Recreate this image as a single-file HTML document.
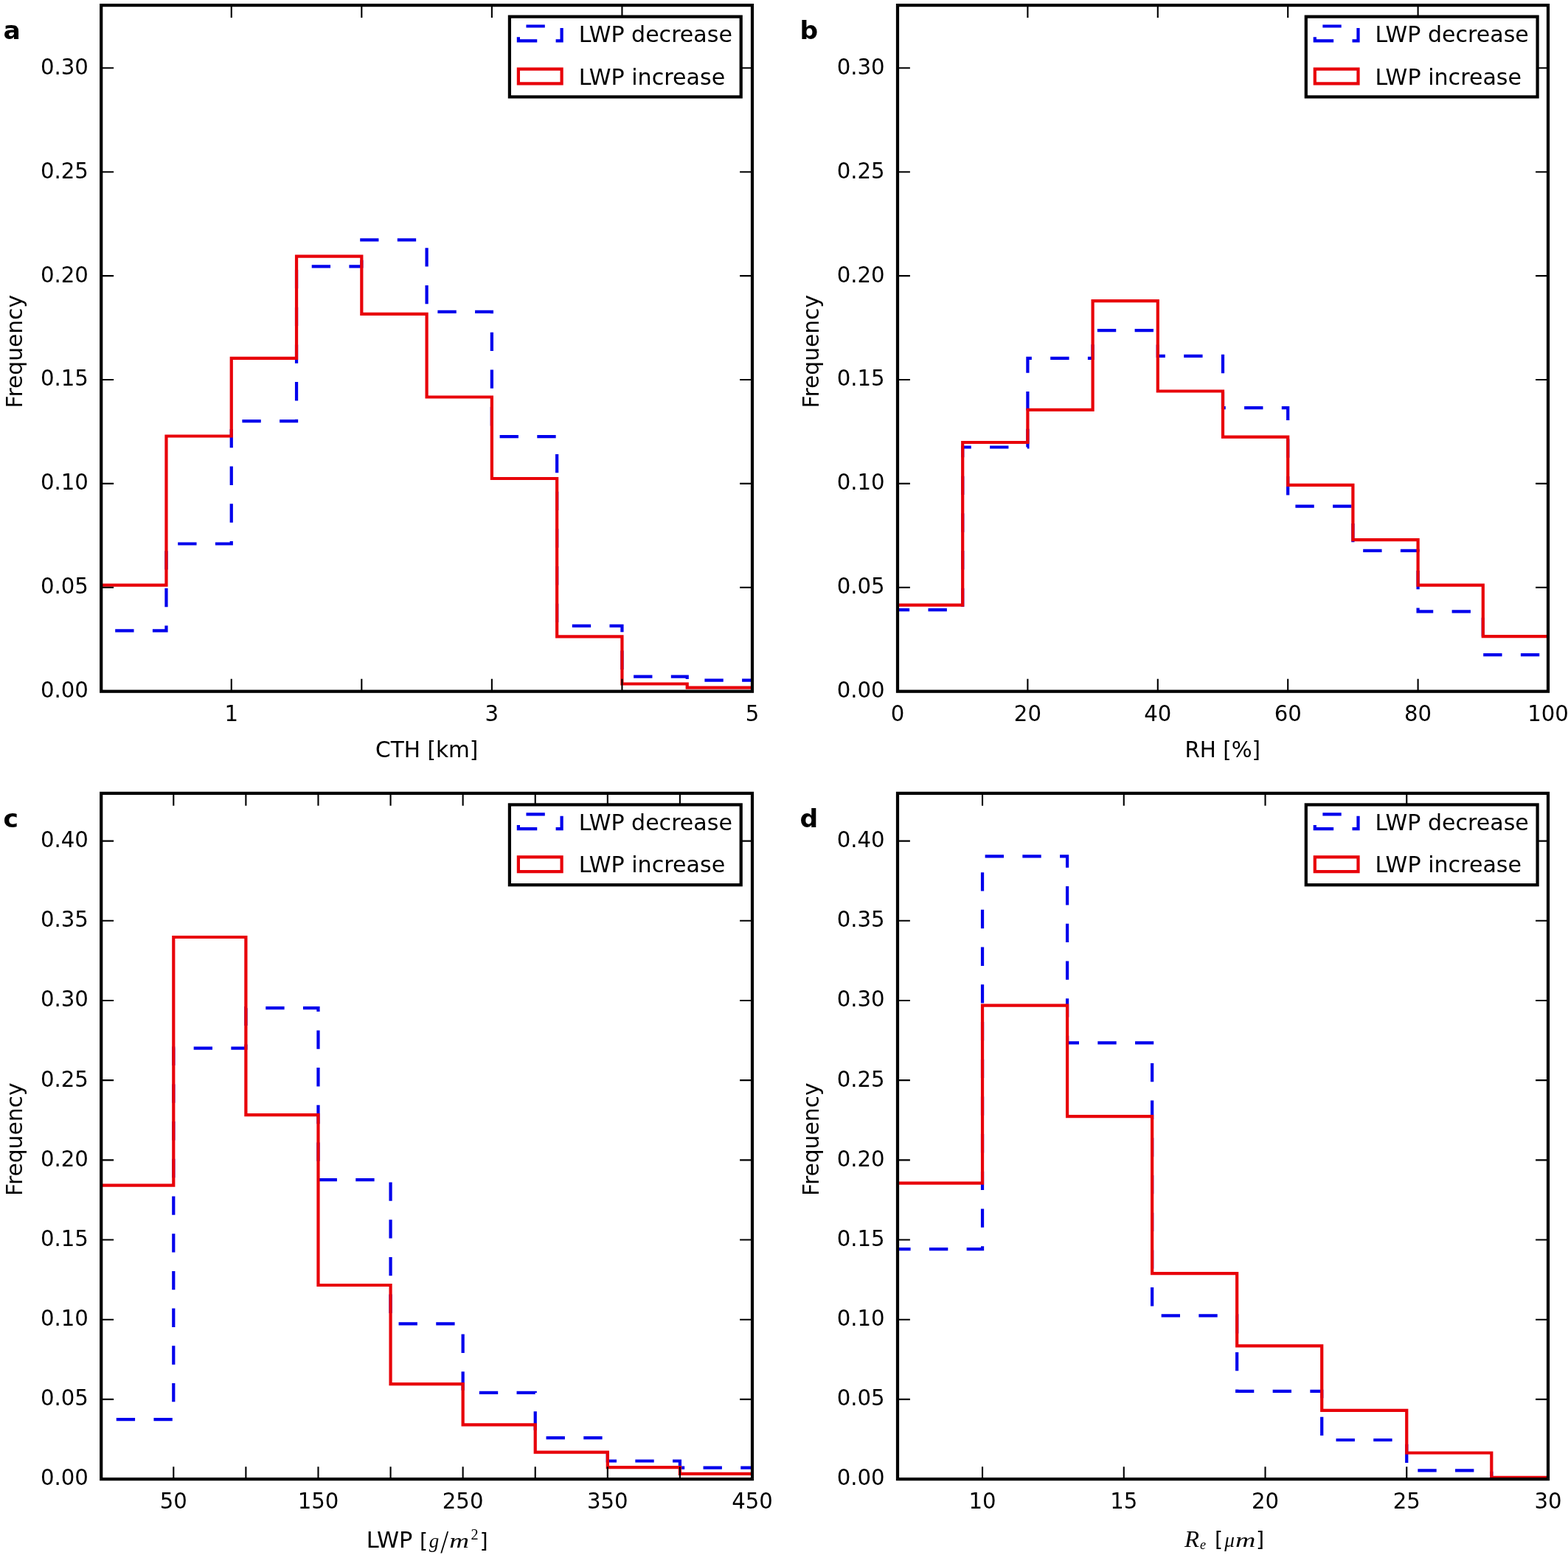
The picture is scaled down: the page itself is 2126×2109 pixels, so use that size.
<!DOCTYPE html>
<html><head><meta charset="utf-8"><title>Histograms</title>
<style>
html,body{margin:0;padding:0;background:#fff;overflow:hidden;}
svg{display:block;}
text{font-family:"DejaVu Sans","Liberation Sans",sans-serif;fill:#000;}
.b{font-weight:bold;}
.m{font-family:"Liberation Serif","DejaVu Serif",serif;}
</style></head><body>
<svg width="2126" height="2109" viewBox="0 0 2126 2109">
<rect x="0" y="0" width="2126" height="2109" fill="#fff"/>
<clipPath id="cpa"><rect x="138.2" y="8.1" width="880.8" height="928.6"/></clipPath>
<path d="M137.2 855.3H225.48V737.5H313.76V571.2H402.04V361.3H490.32V325.3H578.6V422.8H666.88V592.1H755.16V848.8H843.44V917.6H931.72V922.7H1020" fill="none" stroke="#0000ec" stroke-width="4.225" stroke-linejoin="miter" stroke-linecap="butt" stroke-dasharray="25.35 25.35" stroke-dashoffset="82.4" clip-path="url(#cpa)"/>
<path d="M137.2 793.6H225.48V591.5H313.76V485.9H402.04V347.6H490.32V425.9H578.6V538.5H666.88V649H755.16V863.3H843.44V927.5H931.72V932.7H1020" fill="none" stroke="#e8020a" stroke-width="4.225" stroke-linejoin="miter" stroke-linecap="butt" clip-path="url(#cpa)"/>
<path d="M313.76 937.7v-16.9M313.76 7.1v16.9M490.32 937.7v-16.9M490.32 7.1v16.9M666.88 937.7v-16.9M666.88 7.1v16.9M843.44 937.7v-16.9M843.44 7.1v16.9M137.2 937.7h16.9M1020 937.7h-16.9M137.2 796.8h16.9M1020 796.8h-16.9M137.2 655.9h16.9M1020 655.9h-16.9M137.2 515h16.9M1020 515h-16.9M137.2 374.1h16.9M1020 374.1h-16.9M137.2 233.2h16.9M1020 233.2h-16.9M137.2 92.3h16.9M1020 92.3h-16.9" stroke="#000" stroke-width="2.11" fill="none"/>
<rect x="137.2" y="7.1" width="882.8" height="930.6" fill="none" stroke="#000" stroke-width="4.225"/>
<text x="54.88" y="946.1" font-size="29.7" textLength="65.02" lengthAdjust="spacingAndGlyphs">0.00</text>
<text x="54.88" y="805.2" font-size="29.7" textLength="65.02" lengthAdjust="spacingAndGlyphs">0.05</text>
<text x="54.88" y="664.3" font-size="29.7" textLength="65.02" lengthAdjust="spacingAndGlyphs">0.10</text>
<text x="54.88" y="523.4" font-size="29.7" textLength="65.02" lengthAdjust="spacingAndGlyphs">0.15</text>
<text x="54.88" y="382.5" font-size="29.7" textLength="65.02" lengthAdjust="spacingAndGlyphs">0.20</text>
<text x="54.88" y="241.6" font-size="29.7" textLength="65.02" lengthAdjust="spacingAndGlyphs">0.25</text>
<text x="54.88" y="100.7" font-size="29.7" textLength="65.02" lengthAdjust="spacingAndGlyphs">0.30</text>
<text x="304.48" y="977.9" font-size="29.7" textLength="18.56" lengthAdjust="spacingAndGlyphs">1</text>
<text x="657.6" y="977.9" font-size="29.7" textLength="18.56" lengthAdjust="spacingAndGlyphs">3</text>
<text x="1010.72" y="977.9" font-size="29.7" textLength="18.56" lengthAdjust="spacingAndGlyphs">5</text>
<rect x="690.9" y="22.6" width="313.8" height="108.8" fill="#fff" stroke="#000" stroke-width="4.225"/>
<path d="M702.9 55.4H761.6V35.5H702.9Z" fill="none" stroke="#0000ec" stroke-width="4.225" stroke-dasharray="25.35 25.35"/>
<path d="M702.9 113.4H761.6V93.6H702.9Z" fill="none" stroke="#e8020a" stroke-width="4.225"/>
<text x="784.7" y="56.7" font-size="29.575" textLength="208.2" lengthAdjust="spacingAndGlyphs">LWP decrease</text>
<text x="784.7" y="114.5" font-size="29.575" textLength="198.5" lengthAdjust="spacingAndGlyphs">LWP increase</text>
<text transform="translate(29.9 476.7) rotate(-90)" x="-76.75" y="0" font-size="29.575" textLength="153.5" lengthAdjust="spacingAndGlyphs">Frequency</text>
<text class="b" x="4.6" y="52.7" font-size="34.5">a</text>
<text x="509.1" y="1027.2" font-size="29.575" textLength="139.3" lengthAdjust="spacingAndGlyphs">CTH [km]</text>
<clipPath id="cpb"><rect x="1218" y="8.1" width="880" height="928.6"/></clipPath>
<path d="M1217 827.1H1305.2V606.5H1393.4V485.8H1481.6V448.1H1569.8V482.9H1658V553.1H1746.2V686.6H1834.4V746.9H1922.6V829.3H2010.8V888.1H2099" fill="none" stroke="#0000ec" stroke-width="4.225" stroke-linejoin="miter" stroke-linecap="butt" stroke-dasharray="25.35 25.35" stroke-dashoffset="110.6" clip-path="url(#cpb)"/>
<path d="M1217 820.7H1305.2V600H1393.4V555.9H1481.6V408.05H1569.8V530.5H1658V592.7H1746.2V657.8H1834.4V732.2H1922.6V793.7H2010.8V863.1H2099" fill="none" stroke="#e8020a" stroke-width="4.225" stroke-linejoin="miter" stroke-linecap="butt" clip-path="url(#cpb)"/>
<path d="M1393.4 937.7v-16.9M1393.4 7.1v16.9M1569.8 937.7v-16.9M1569.8 7.1v16.9M1746.2 937.7v-16.9M1746.2 7.1v16.9M1922.6 937.7v-16.9M1922.6 7.1v16.9M1217 937.7h16.9M2099 937.7h-16.9M1217 796.8h16.9M2099 796.8h-16.9M1217 655.9h16.9M2099 655.9h-16.9M1217 515h16.9M2099 515h-16.9M1217 374.1h16.9M2099 374.1h-16.9M1217 233.2h16.9M2099 233.2h-16.9M1217 92.3h16.9M2099 92.3h-16.9" stroke="#000" stroke-width="2.11" fill="none"/>
<rect x="1217" y="7.1" width="882" height="930.6" fill="none" stroke="#000" stroke-width="4.225"/>
<text x="1134.68" y="946.1" font-size="29.7" textLength="65.02" lengthAdjust="spacingAndGlyphs">0.00</text>
<text x="1134.68" y="805.2" font-size="29.7" textLength="65.02" lengthAdjust="spacingAndGlyphs">0.05</text>
<text x="1134.68" y="664.3" font-size="29.7" textLength="65.02" lengthAdjust="spacingAndGlyphs">0.10</text>
<text x="1134.68" y="523.4" font-size="29.7" textLength="65.02" lengthAdjust="spacingAndGlyphs">0.15</text>
<text x="1134.68" y="382.5" font-size="29.7" textLength="65.02" lengthAdjust="spacingAndGlyphs">0.20</text>
<text x="1134.68" y="241.6" font-size="29.7" textLength="65.02" lengthAdjust="spacingAndGlyphs">0.25</text>
<text x="1134.68" y="100.7" font-size="29.7" textLength="65.02" lengthAdjust="spacingAndGlyphs">0.30</text>
<text x="1207.72" y="977.9" font-size="29.7" textLength="18.56" lengthAdjust="spacingAndGlyphs">0</text>
<text x="1374.84" y="977.9" font-size="29.7" textLength="37.12" lengthAdjust="spacingAndGlyphs">20</text>
<text x="1551.24" y="977.9" font-size="29.7" textLength="37.12" lengthAdjust="spacingAndGlyphs">40</text>
<text x="1727.64" y="977.9" font-size="29.7" textLength="37.12" lengthAdjust="spacingAndGlyphs">60</text>
<text x="1904.04" y="977.9" font-size="29.7" textLength="37.12" lengthAdjust="spacingAndGlyphs">80</text>
<text x="2071.16" y="977.9" font-size="29.7" textLength="55.67" lengthAdjust="spacingAndGlyphs">100</text>
<rect x="1770.8" y="22.6" width="313.8" height="108.8" fill="#fff" stroke="#000" stroke-width="4.225"/>
<path d="M1782.8 55.4H1841.5V35.5H1782.8Z" fill="none" stroke="#0000ec" stroke-width="4.225" stroke-dasharray="25.35 25.35"/>
<path d="M1782.8 113.4H1841.5V93.6H1782.8Z" fill="none" stroke="#e8020a" stroke-width="4.225"/>
<text x="1864.6" y="56.7" font-size="29.575" textLength="208.2" lengthAdjust="spacingAndGlyphs">LWP decrease</text>
<text x="1864.6" y="114.5" font-size="29.575" textLength="198.5" lengthAdjust="spacingAndGlyphs">LWP increase</text>
<text transform="translate(1109.7 476.7) rotate(-90)" x="-76.75" y="0" font-size="29.575" textLength="153.5" lengthAdjust="spacingAndGlyphs">Frequency</text>
<text class="b" x="1084.4" y="52.7" font-size="34.5">b</text>
<text x="1606.4" y="1027.2" font-size="29.575" textLength="102.6" lengthAdjust="spacingAndGlyphs">RH [%]</text>
<clipPath id="cpc"><rect x="138.2" y="1076.9" width="880.8" height="928.15"/></clipPath>
<path d="M137.2 1925.2H235.29V1421.7H333.38V1367.2H431.47V1600.1H529.56V1795.3H627.64V1888.8H725.73V1950.2H823.82V1981.5H921.91V1990.7H1020" fill="none" stroke="#0000ec" stroke-width="4.225" stroke-linejoin="miter" stroke-linecap="butt" stroke-dasharray="25.35 25.35" stroke-dashoffset="80.85" clip-path="url(#cpc)"/>
<path d="M137.2 1607.6H235.29V1271H333.38V1512.1H431.47V1743H529.56V1877.2H627.64V1932.3H725.73V1969.6H823.82V1990.2H921.91V1998.9H1020" fill="none" stroke="#e8020a" stroke-width="4.225" stroke-linejoin="miter" stroke-linecap="butt" clip-path="url(#cpc)"/>
<path d="M235.29 2006.05v-16.9M235.29 1075.9v16.9M333.38 2006.05v-16.9M333.38 1075.9v16.9M431.47 2006.05v-16.9M431.47 1075.9v16.9M529.56 2006.05v-16.9M529.56 1075.9v16.9M627.64 2006.05v-16.9M627.64 1075.9v16.9M725.73 2006.05v-16.9M725.73 1075.9v16.9M823.82 2006.05v-16.9M823.82 1075.9v16.9M921.91 2006.05v-16.9M921.91 1075.9v16.9M137.2 2006.05h16.9M1020 2006.05h-16.9M137.2 1897.87h16.9M1020 1897.87h-16.9M137.2 1789.69h16.9M1020 1789.69h-16.9M137.2 1681.51h16.9M1020 1681.51h-16.9M137.2 1573.33h16.9M1020 1573.33h-16.9M137.2 1465.15h16.9M1020 1465.15h-16.9M137.2 1356.97h16.9M1020 1356.97h-16.9M137.2 1248.79h16.9M1020 1248.79h-16.9M137.2 1140.61h16.9M1020 1140.61h-16.9" stroke="#000" stroke-width="2.11" fill="none"/>
<rect x="137.2" y="1075.9" width="882.8" height="930.15" fill="none" stroke="#000" stroke-width="4.225"/>
<text x="54.88" y="2014.45" font-size="29.7" textLength="65.02" lengthAdjust="spacingAndGlyphs">0.00</text>
<text x="54.88" y="1906.27" font-size="29.7" textLength="65.02" lengthAdjust="spacingAndGlyphs">0.05</text>
<text x="54.88" y="1798.09" font-size="29.7" textLength="65.02" lengthAdjust="spacingAndGlyphs">0.10</text>
<text x="54.88" y="1689.91" font-size="29.7" textLength="65.02" lengthAdjust="spacingAndGlyphs">0.15</text>
<text x="54.88" y="1581.73" font-size="29.7" textLength="65.02" lengthAdjust="spacingAndGlyphs">0.20</text>
<text x="54.88" y="1473.55" font-size="29.7" textLength="65.02" lengthAdjust="spacingAndGlyphs">0.25</text>
<text x="54.88" y="1365.37" font-size="29.7" textLength="65.02" lengthAdjust="spacingAndGlyphs">0.30</text>
<text x="54.88" y="1257.19" font-size="29.7" textLength="65.02" lengthAdjust="spacingAndGlyphs">0.35</text>
<text x="54.88" y="1149.01" font-size="29.7" textLength="65.02" lengthAdjust="spacingAndGlyphs">0.40</text>
<text x="216.73" y="2046.25" font-size="29.7" textLength="37.12" lengthAdjust="spacingAndGlyphs">50</text>
<text x="403.63" y="2046.25" font-size="29.7" textLength="55.67" lengthAdjust="spacingAndGlyphs">150</text>
<text x="599.81" y="2046.25" font-size="29.7" textLength="55.67" lengthAdjust="spacingAndGlyphs">250</text>
<text x="795.99" y="2046.25" font-size="29.7" textLength="55.67" lengthAdjust="spacingAndGlyphs">350</text>
<text x="992.16" y="2046.25" font-size="29.7" textLength="55.67" lengthAdjust="spacingAndGlyphs">450</text>
<rect x="690.9" y="1091.4" width="313.8" height="108.8" fill="#fff" stroke="#000" stroke-width="4.225"/>
<path d="M702.9 1124.2H761.6V1104.3H702.9Z" fill="none" stroke="#0000ec" stroke-width="4.225" stroke-dasharray="25.35 25.35"/>
<path d="M702.9 1182.2H761.6V1162.4H702.9Z" fill="none" stroke="#e8020a" stroke-width="4.225"/>
<text x="784.7" y="1125.5" font-size="29.575" textLength="208.2" lengthAdjust="spacingAndGlyphs">LWP decrease</text>
<text x="784.7" y="1183.3" font-size="29.575" textLength="198.5" lengthAdjust="spacingAndGlyphs">LWP increase</text>
<text transform="translate(29.9 1545.27) rotate(-90)" x="-76.75" y="0" font-size="29.575" textLength="153.5" lengthAdjust="spacingAndGlyphs">Frequency</text>
<text class="b" x="4.6" y="1121.5" font-size="34.5">c</text>
<clipPath id="cpd"><rect x="1218" y="1076.9" width="880" height="928.15"/></clipPath>
<path d="M1217 1694.1H1332.04V1161.4H1447.09V1414.3H1562.13V1784.3H1677.17V1886.8H1792.22V1953H1907.26V1994.3H2022.3V2006H2137.35" fill="none" stroke="#0000ec" stroke-width="4.225" stroke-linejoin="miter" stroke-linecap="butt" stroke-dasharray="25.35 25.35" stroke-dashoffset="311.95" clip-path="url(#cpd)"/>
<path d="M1217 1604.7H1332.04V1363.7H1447.09V1514.2H1562.13V1727.2H1677.17V1825.3H1792.22V1912.8H1907.26V1970.5H2022.3V2003.8H2137.35" fill="none" stroke="#e8020a" stroke-width="4.225" stroke-linejoin="miter" stroke-linecap="butt" clip-path="url(#cpd)"/>
<path d="M1332.04 2006.05v-16.9M1332.04 1075.9v16.9M1523.78 2006.05v-16.9M1523.78 1075.9v16.9M1715.52 2006.05v-16.9M1715.52 1075.9v16.9M1907.26 2006.05v-16.9M1907.26 1075.9v16.9M1217 2006.05h16.9M2099 2006.05h-16.9M1217 1897.87h16.9M2099 1897.87h-16.9M1217 1789.69h16.9M2099 1789.69h-16.9M1217 1681.51h16.9M2099 1681.51h-16.9M1217 1573.33h16.9M2099 1573.33h-16.9M1217 1465.15h16.9M2099 1465.15h-16.9M1217 1356.97h16.9M2099 1356.97h-16.9M1217 1248.79h16.9M2099 1248.79h-16.9M1217 1140.61h16.9M2099 1140.61h-16.9" stroke="#000" stroke-width="2.11" fill="none"/>
<rect x="1217" y="1075.9" width="882" height="930.15" fill="none" stroke="#000" stroke-width="4.225"/>
<text x="1134.68" y="2014.45" font-size="29.7" textLength="65.02" lengthAdjust="spacingAndGlyphs">0.00</text>
<text x="1134.68" y="1906.27" font-size="29.7" textLength="65.02" lengthAdjust="spacingAndGlyphs">0.05</text>
<text x="1134.68" y="1798.09" font-size="29.7" textLength="65.02" lengthAdjust="spacingAndGlyphs">0.10</text>
<text x="1134.68" y="1689.91" font-size="29.7" textLength="65.02" lengthAdjust="spacingAndGlyphs">0.15</text>
<text x="1134.68" y="1581.73" font-size="29.7" textLength="65.02" lengthAdjust="spacingAndGlyphs">0.20</text>
<text x="1134.68" y="1473.55" font-size="29.7" textLength="65.02" lengthAdjust="spacingAndGlyphs">0.25</text>
<text x="1134.68" y="1365.37" font-size="29.7" textLength="65.02" lengthAdjust="spacingAndGlyphs">0.30</text>
<text x="1134.68" y="1257.19" font-size="29.7" textLength="65.02" lengthAdjust="spacingAndGlyphs">0.35</text>
<text x="1134.68" y="1149.01" font-size="29.7" textLength="65.02" lengthAdjust="spacingAndGlyphs">0.40</text>
<text x="1313.49" y="2046.25" font-size="29.7" textLength="37.12" lengthAdjust="spacingAndGlyphs">10</text>
<text x="1505.22" y="2046.25" font-size="29.7" textLength="37.12" lengthAdjust="spacingAndGlyphs">15</text>
<text x="1696.96" y="2046.25" font-size="29.7" textLength="37.12" lengthAdjust="spacingAndGlyphs">20</text>
<text x="1888.7" y="2046.25" font-size="29.7" textLength="37.12" lengthAdjust="spacingAndGlyphs">25</text>
<text x="2080.44" y="2046.25" font-size="29.7" textLength="37.12" lengthAdjust="spacingAndGlyphs">30</text>
<rect x="1770.8" y="1091.4" width="313.8" height="108.8" fill="#fff" stroke="#000" stroke-width="4.225"/>
<path d="M1782.8 1124.2H1841.5V1104.3H1782.8Z" fill="none" stroke="#0000ec" stroke-width="4.225" stroke-dasharray="25.35 25.35"/>
<path d="M1782.8 1182.2H1841.5V1162.4H1782.8Z" fill="none" stroke="#e8020a" stroke-width="4.225"/>
<text x="1864.6" y="1125.5" font-size="29.575" textLength="208.2" lengthAdjust="spacingAndGlyphs">LWP decrease</text>
<text x="1864.6" y="1183.3" font-size="29.575" textLength="198.5" lengthAdjust="spacingAndGlyphs">LWP increase</text>
<text transform="translate(1109.7 1545.27) rotate(-90)" x="-76.75" y="0" font-size="29.575" textLength="153.5" lengthAdjust="spacingAndGlyphs">Frequency</text>
<text class="b" x="1084.4" y="1121.5" font-size="34.5">d</text>
<text x="496.8" y="2099.3" font-size="29.575" textLength="62.65" lengthAdjust="spacingAndGlyphs">LWP</text>
<text x="569" y="2099.6" font-size="28.5">[</text>
<text class="m" x="581.8" y="2099.3" font-size="27" font-style="italic">g</text>
<text x="596.8" y="2102.9" font-size="35.4" font-weight="200">/</text>
<text class="m" x="609.2" y="2099.3" font-size="26.5" font-style="italic" textLength="26.8" lengthAdjust="spacingAndGlyphs">m</text>
<text class="m" x="638.4" y="2087.9" font-size="20.2">2</text>
<text x="650.4" y="2099.6" font-size="28.5">]</text>
<text class="m" x="1606" y="2097.7" font-size="30.7" font-style="italic" textLength="20.0" lengthAdjust="spacingAndGlyphs">R</text>
<text class="m" x="1626.9" y="2101" font-size="18.1" font-style="italic">e</text>
<text x="1647" y="2097.5" font-size="28.5">[</text>
<text class="m" x="1660.2" y="2097.5" font-size="27.2" font-style="italic">μ</text>
<text class="m" x="1675" y="2097.5" font-size="26.5" font-style="italic" textLength="27.4" lengthAdjust="spacingAndGlyphs">m</text>
<text x="1703" y="2097.5" font-size="28.5">]</text>
</svg>
</body></html>
